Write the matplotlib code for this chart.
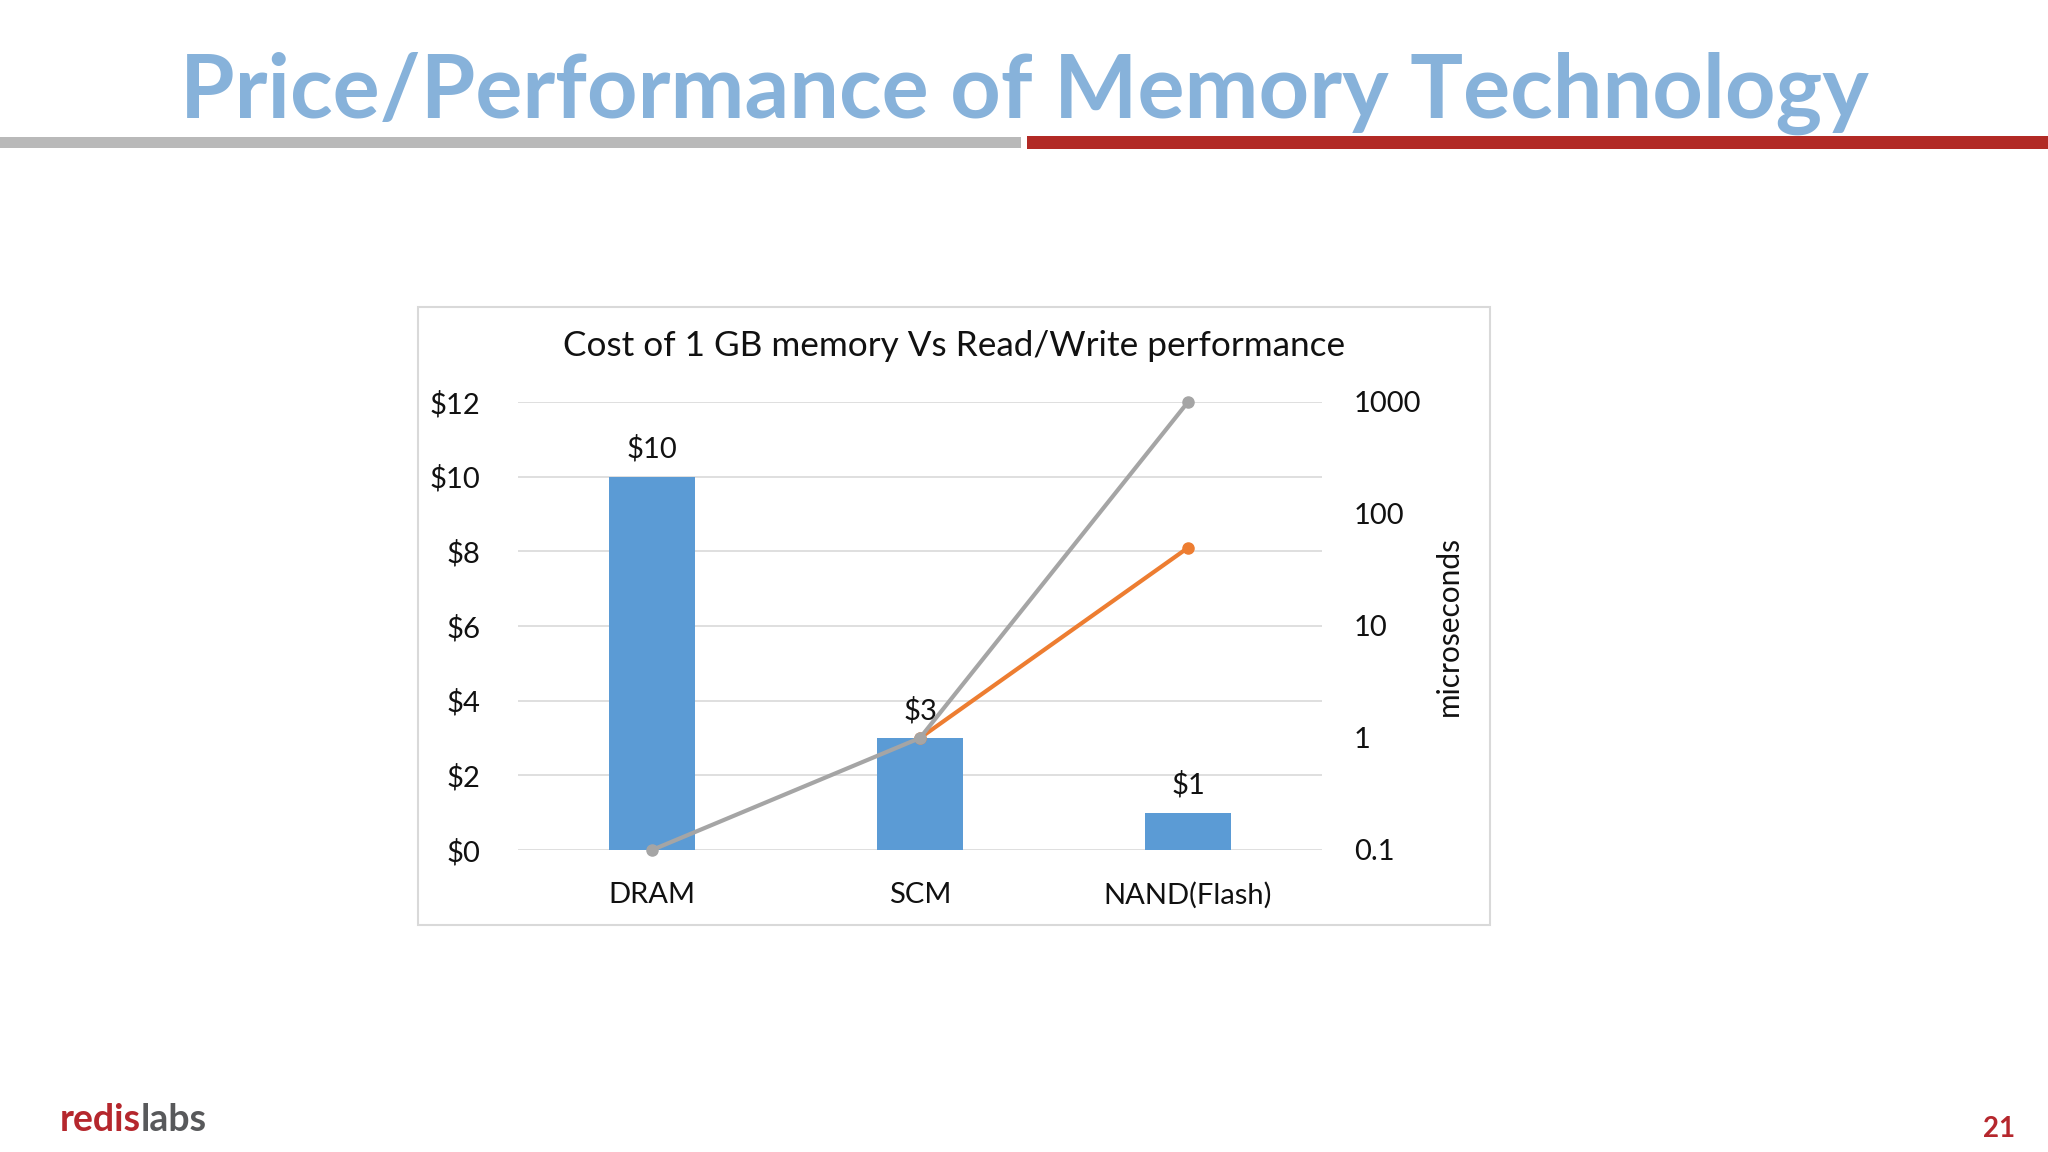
import numpy as np
import matplotlib.pyplot as plt
from matplotlib.patches import Rectangle

# chart data
categories = ['DRAM', 'SCM', 'NAND(Flash)']
cost = [10, 3, 1]
cost_labels = ['$10', '$3', '$1']
latency_gray = [0.1, 1, 1000]
latency_orange = [np.nan, 1, 50]
cost_ticks = [0, 2, 4, 6, 8, 10, 12]
latency_ticks = [0.1, 1, 10, 100, 1000]
latency_tick_labels = ['0.1', '1', '10', '100', '1000']

plt.rcParams['font.family'] = ['Lato', 'DejaVu Sans']


def main():
    fig = plt.figure(figsize=(20.48, 11.52), dpi=100)
    fig.patch.set_facecolor('white')

    # slide header
    fig.text(0.5, 1 - 118 / 1152, 'Price/Performance of Memory Technology',
             ha='center', va='baseline', fontsize=63.5, fontweight='bold',
             color='#87b2da')
    fig.patches.append(Rectangle((0, 1 - 148 / 1152), 1021 / 2048, 11 / 1152,
                                 transform=fig.transFigure, color='#b9b9b9', lw=0))
    fig.patches.append(Rectangle((1027 / 2048, 1 - 149 / 1152), 1 - 1027 / 2048, 13 / 1152,
                                 transform=fig.transFigure, color='#b22a25', lw=0))

    # chart frame
    fig.patches.append(Rectangle((418 / 2048, 1 - 925 / 1152), 1072 / 2048, 618 / 1152,
                                 transform=fig.transFigure, facecolor='none',
                                 edgecolor='#d9d9d9', lw=1.5, zorder=-1))
    fig.text(0.5 * (418 + 1490) / 2048, 1 - 346 / 1152,
             'Cost of 1 GB memory Vs Read/Write performance',
             ha='center', va='center', fontsize=25.3, color='#111111')

    ax = fig.add_axes([518 / 2048, 1 - 850 / 1152, 804 / 2048, 448 / 1152])
    ax.set_facecolor('none')
    x = np.arange(len(categories))
    ax.bar(x, cost, width=0.32, color='#5b9bd5', zorder=2)
    for xi, c, lab in zip(x, cost, cost_labels):
        ax.annotate(lab, (xi, c), xytext=(0, 10), textcoords='offset points',
                    ha='center', va='bottom', fontsize=21, color='#111111')
    ax.set_xlim(-0.5, 2.5)
    ax.set_ylim(0, 12)
    ax.set_yticks(cost_ticks)
    ax.set_yticklabels(['$' + str(t) for t in cost_ticks])
    ax.set_xticks(x)
    ax.set_xticklabels(categories)
    ax.yaxis.grid(True, color='#d9d9d9', lw=1.2, zorder=0)
    ax.set_axisbelow(True)
    ax.tick_params(length=0, labelsize=21, colors='#111111')
    ax.tick_params(axis='y', pad=27)
    ax.tick_params(axis='x', pad=23)
    for s in ax.spines.values():
        s.set_visible(False)

    ax2 = ax.twinx()
    ax2.set_yscale('log')
    ax2.set_ylim(0.1, 1000)
    ax2.plot(x, latency_orange, color='#ed7d31', lw=3, marker='o', ms=8,
             zorder=3, clip_on=False)
    ax2.plot(x, latency_gray, color='#a5a5a5', lw=3, marker='o', ms=8,
             zorder=4, clip_on=False)
    ax2.set_yticks(latency_ticks)
    ax2.set_yticklabels(latency_tick_labels)
    ax2.minorticks_off()
    ax2.tick_params(length=0, labelsize=21, colors='#111111', pad=23)
    ax2.set_ylabel('microseconds', fontsize=21.5, color='#111111', labelpad=10)
    for s in ax2.spines.values():
        s.set_visible(False)

    # footer
    fig.text(141 / 2048, 1 - 1131 / 1152, 'redis', ha='right', va='baseline',
             fontsize=27, fontweight='bold', color='#b5272d')
    fig.text(141 / 2048, 1 - 1131 / 1152, 'labs', ha='left', va='baseline',
             fontsize=27, fontweight='bold', color='#58595b')
    fig.text(2015 / 2048, 1 - 1137 / 1152, '21', ha='right', va='baseline',
             fontsize=20, fontweight='bold', color='#b5272d')

    fig.savefig('out.png', dpi=100)


if __name__ == "__main__":
    main()
